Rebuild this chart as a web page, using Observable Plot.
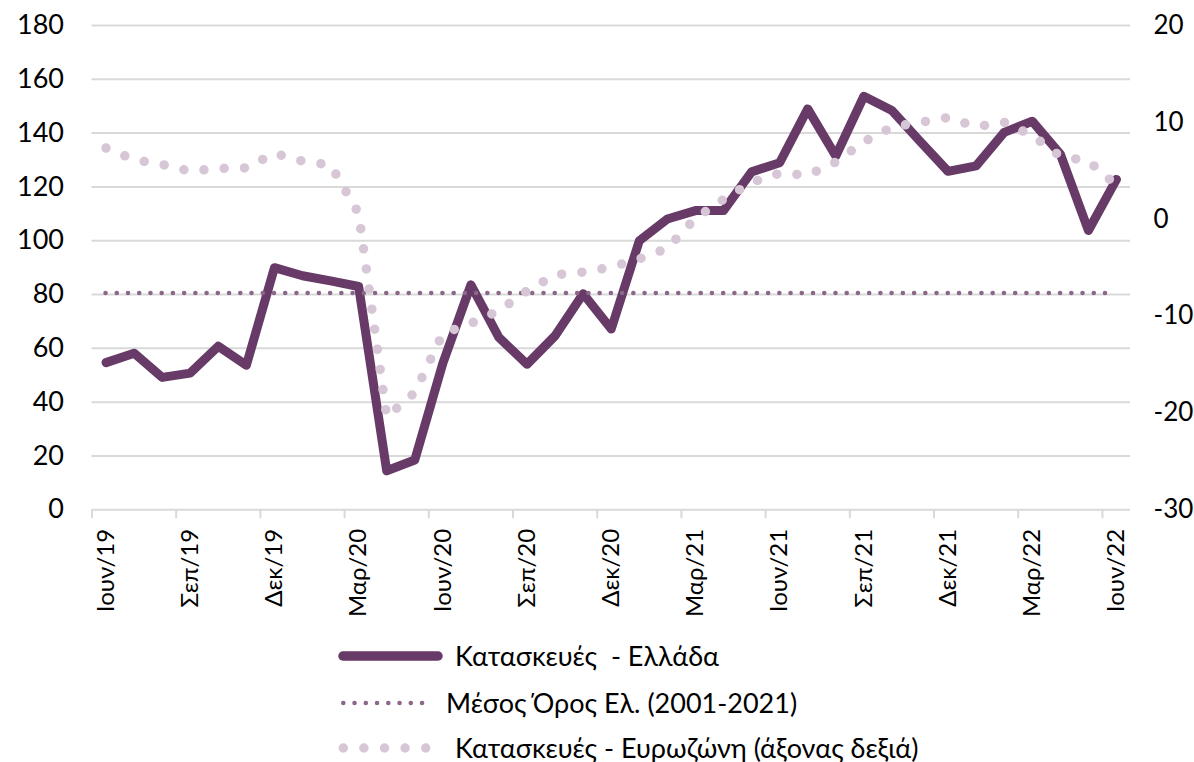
<!DOCTYPE html>
<html><head><meta charset="utf-8">
<script src="https://cdn.jsdelivr.net/npm/d3@7"></script>
<script src="https://cdn.jsdelivr.net/npm/@observablehq/plot@0.6"></script>
<style>
body{margin:0;background:#fff;font-family:Lato,"Open Sans",sans-serif;}
#chart{width:1194px;}
.legend{position:relative;height:142px;width:1194px;font-size:27px;color:#000;}
.item{position:absolute;left:0;height:30px;}
.item svg{position:absolute;left:0;top:0;}
.item span{position:absolute;top:0;line-height:30px;white-space:pre;}
</style></head><body>
<div id="chart"></div>
<div class="legend" id="legend"></div>
<script>
// Months (category axis), June 2019 – June 2022
const months = ["Ιουν/19","Ιουλ/19","Αυγ/19","Σεπ/19","Οκτ/19","Νοε/19","Δεκ/19",
  "Ιαν/20","Φεβ/20","Μαρ/20","Απρ/20","Μαι/20","Ιουν/20","Ιουλ/20","Αυγ/20","Σεπ/20","Οκτ/20","Νοε/20","Δεκ/20",
  "Ιαν/21","Φεβ/21","Μαρ/21","Απρ/21","Μαι/21","Ιουν/21","Ιουλ/21","Αυγ/21","Σεπ/21","Οκτ/21","Νοε/21","Δεκ/21",
  "Ιαν/22","Φεβ/22","Μαρ/22","Απρ/22","Μαι/22","Ιουν/22"];
// Κατασκευές - Ελλάδα (left axis)
const greece = [54.7, 58.2, 49.2, 50.8, 60.8, 53.7, 90.0, 87.0, 85.1, 83.0, 14.5, 18.5,
  54.5, 83.6, 64.0, 54.1, 64.7, 80.3, 67.2, 100.0, 108.1, 111.2, 111.2, 125.6,
  129.0, 149.0, 131.5, 153.7, 148.4, 137.0, 125.8, 127.8, 140.3, 144.4, 132.2, 103.8, 122.8];
// Κατασκευές - Ευρωζώνη (right axis)
const eurozone = [7.35, 6.15, 5.65, 4.95, 5.25, 5.3, 6.8, 6.0, 5.6, 0.6, -20.4, -17.9,
  -11.8, -10.75, -9.45, -7.4, -5.75, -5.45, -4.95, -4.1, -3.0, 0.1, 2.05, 3.8,
  4.75, 4.55, 5.9, 8.0, 9.5, 10.0, 10.5, 9.55, 10.0, 8.65, 6.5, 6.0, 3.5];
// Μέσος Όρος Ελ. (2001-2021)
const meanValue = 80.6;
const leftTicks = [0, 20, 40, 60, 80, 100, 120, 140, 160, 180];
const rightTicks = [-30, -20, -10, 0, 10, 20];
const seriesNames = ["Κατασκευές  - Ελλάδα", "Μέσος Όρος Ελ. (2001-2021)", "Κατασκευές - Ευρωζώνη (άξονας δεξιά)"];

const C_GR = "#673a67", C_MEAN = "#8b6889", C_EZ = "#d6c6d6", C_GRID = "#d9d9d9";
const FS = 27;
const leftDom = [leftTicks[0], leftTicks[leftTicks.length - 1]];
const rightDom = [rightTicks[0], rightTicks[rightTicks.length - 1]];
const toLeft = r => leftDom[0] + (r - rightDom[0]) * (leftDom[1] - leftDom[0]) / (rightDom[1] - rightDom[0]);
const toRight = v => rightDom[0] + (v - leftDom[0]) * (rightDom[1] - rightDom[0]) / (leftDom[1] - leftDom[0]);

const rows = months.map((m, i) => ({i, m, gr: greece[i], ez: eurozone[i]}));
const n = months.length;
const labelIdx = d3.range(0, n, 3);
const boundaries = labelIdx.map(i => i - 0.5);

const chart = Plot.plot({
  width: 1194, height: 620,
  marginLeft: 91.5, marginRight: 64, marginTop: 25, marginBottom: 110.7,
  x: {type: "linear", domain: [-0.5, n - 0.5]},
  y: {domain: leftDom},
  style: {fontFamily: "Lato, 'Open Sans', sans-serif", fontSize: FS + "px", color: "#000", background: "#fff", overflow: "visible"},
  marks: [
    Plot.gridY(leftTicks, {stroke: C_GRID, strokeOpacity: 1, strokeWidth: 2}),
    Plot.axisY(leftTicks, {anchor: "left", label: null, tickSize: 0, tickPadding: 28, tickFormat: d => String(d), fontSize: FS}),
    Plot.axisY(rightTicks.map(toLeft), {anchor: "right", label: null, tickSize: 0, tickPadding: 23, tickFormat: v => String(Math.round(toRight(v))), fontSize: 26}),
    Plot.axisX(boundaries, {label: null, tickSize: 9, tickFormat: () => "", stroke: C_GRID, strokeOpacity: 1, strokeWidth: 2}),
    Plot.axisX(labelIdx, {label: null, tickSize: 0, tickPadding: 19, tickRotate: -90, tickFormat: i => months[i], fontSize: 24}),
    Plot.line(rows, {x: "i", y: "gr", stroke: C_GR, strokeWidth: 9, strokeLinejoin: "round", strokeLinecap: "round"}),
    Plot.ruleY([meanValue], {x1: 0, x2: n - 1, stroke: C_MEAN, strokeWidth: 4.6, strokeDasharray: "0 11.23", strokeLinecap: "round"}),
    Plot.line(rows, {x: "i", y: d => toLeft(d.ez), stroke: C_EZ, strokeWidth: 9.5, strokeDasharray: "0 20.3", strokeLinecap: "round"})
  ]
});
document.getElementById("chart").appendChild(chart);

// Legend (HTML below the SVG)
const legend = document.getElementById("legend");
const items = [
  {top: 21, text: seriesNames[0], textLeft: 455, sw: `<line x1="343" y1="15" x2="438" y2="15" stroke="${C_GR}" stroke-width="9.5" stroke-linecap="round"/>`},
  {top: 68, text: seriesNames[1], textLeft: 446, sw: `<line x1="343.3" y1="15" x2="433.3" y2="15" stroke="${C_MEAN}" stroke-width="4.6" stroke-dasharray="0 11.25" stroke-linecap="round"/>`},
  {top: 113, text: seriesNames[2], textLeft: 455, sw: `<line x1="343.3" y1="15" x2="425.7" y2="15" stroke="${C_EZ}" stroke-width="9.5" stroke-dasharray="0 20.6" stroke-linecap="round"/>`}
];
for (const it of items) {
  const d = document.createElement("div");
  d.className = "item";
  d.style.top = it.top + "px";
  d.innerHTML = `<svg width="460" height="30">${it.sw}</svg><span style="left:${it.textLeft}px">${it.text}</span>`;
  legend.appendChild(d);
}
</script>
</body></html>
